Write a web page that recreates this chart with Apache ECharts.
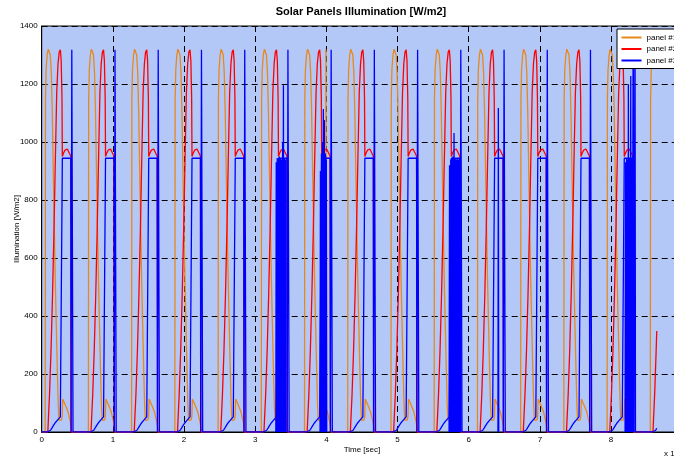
<!DOCTYPE html>
<html><head><meta charset="utf-8">
<script src="https://cdn.jsdelivr.net/npm/echarts@6/dist/echarts.min.js"></script>
<style>html,body{margin:0;padding:0;background:#fff}#c{width:674px;height:457px}</style>
</head><body><div id="c"></div><script>
// Time axis in units of 10^4 s. Orbit-by-orbit times of the panel #1 peak
const cyclePeaks = [0.107, 0.714, 1.321, 1.929, 2.537, 3.144, 3.751, 4.358, 4.966, 5.573, 6.181, 6.788, 7.395, 8.003];

// One orbit: time offsets from the panel #1 peak and illumination [W/m2]
const p1Off = [-0.058, -0.054, -0.045, -0.030, -0.015, 0, 0.014, 0.028, 0.042, 0.056, 0.070, 0.084, 0.098, 0.112, 0.126, 0.136, 0.171, 0.181, 0.188, 0.225, 0.263, 0.295, 0.319];
const p1Val = [0, 1150, 1250, 1300, 1320, 1325, 1300, 1240, 1100, 900, 700, 520, 370, 220, 90, 40, 42, 55, 114, 93, 70, 36, 0];
const p2Off = [-0.021, 0.003, 0.024, 0.045, 0.066, 0.084, 0.104, 0.122, 0.139, 0.155, 0.167, 0.178, 0.183, 0.200, 0.221, 0.253, 0.277, 0.301, 0.308];
const p2Val = [0, 130, 280, 470, 700, 930, 1170, 1270, 1310, 1318, 1280, 1150, 950, 962, 972, 976, 970, 952, 0];
const p3Off = [-0.032, -0.004, 0.017, 0.038, 0.059, 0.084, 0.108, 0.129, 0.155, 0.178, 0.183, 0.302, 0.305, 0.316, 0.333];
const p3Val = [0, 2, 6, 14, 23, 32, 39, 44, 52, 56, 944, 944, 0, 1318, 0];

// Last, truncated orbit
const p1Last = [[8.552, 0], [8.556, 1150], [8.565, 1250], [8.580, 1300], [8.595, 1320], [8.610, 1325], [8.6425, 1275]];
const p2Last = [[8.589, 0], [8.613, 130], [8.634, 280], [8.6425, 348]];
const p3Last = [[8.578, 0], [8.606, 2], [8.627, 6], [8.6425, 13]];

// Irregular extra traces seen in some orbits
const p1Extra = [
  [3.3066, 40], [3.3207, 90], [3.3347, 30], [3.3488, 100], [3.3629, 35], [3.3769, 80], [3.3910, 30], [3.4050, 60], ['-', '-'],
  [3.9251, 50], [3.9391, 90], [3.9532, 40], [3.9672, 80], [3.9813, 50], ['-', '-'],
  [3.9869, 60], [3.9939, 1320], [4.0009, 60], ['-', '-'],
  [5.7645, 40], [5.7786, 100], [5.7927, 50], [5.8067, 110], [5.8208, 40]
];
const p3Extra = [
  [3.2898, 0], [3.2954, 930], [3.3010, 0], [3.3094, 945], [3.3151, 0], [3.3249, 940], [3.3305, 0], [3.3390, 950], [3.3446, 0],
  [3.3544, 945], [3.3600, 0], [3.3699, 940], [3.3755, 0], [3.3853, 1000], [3.3910, 0], [3.3966, 1196], [3.4022, 0],
  [3.4120, 945], [3.4177, 0], [3.4275, 940], [3.4331, 0], ['-', '-'],
  [3.9110, 0], [3.9166, 900], [3.9222, 0], [3.9307, 960], [3.9363, 0], [3.9447, 1000], [3.9503, 0], [3.9574, 1114], [3.9630, 0],
  [3.9715, 1076], [3.9771, 0], [3.9855, 960], [3.9911, 0], [3.9995, 940], [4.0051, 0], ['-', '-'],
  [5.7238, 0], [5.7308, 920], [5.7378, 0], [5.7477, 940], [5.7533, 0], [5.7631, 945], [5.7687, 0], [5.7786, 950], [5.7842, 0],
  [5.7940, 1031], [5.7996, 0], [5.8095, 945], [5.8151, 0], [5.8249, 940], [5.8305, 0], [5.8404, 945], [5.8460, 0],
  [5.8558, 940], [5.8614, 0], [5.8713, 945], [5.8769, 0], [5.8867, 940], [5.8924, 0], ['-', '-'],
  [6.4110, 0], [6.4166, 1117], [6.4222, 0], ['-', '-'],
  [8.1972, 0], [8.2028, 930], [8.2084, 0], [8.2183, 945], [8.2239, 0], [8.2337, 940], [8.2394, 0], [8.2436, 1199], [8.2492, 0],
  [8.2590, 945], [8.2647, 0], [8.2773, 1228], [8.2829, 0], [8.2928, 945], [8.2984, 0], [8.3096, 1273], [8.3153, 0],
  [8.3378, 1297], [8.3434, 0]
];

const xTicks = {min: 0, max: 9, interval: 1};
const yTicks = {min: 0, max: 1400, interval: 200};
const names = ['panel #1', 'panel #2', 'panel #3'];
const colors = ['#e8881a', '#ff0000', '#0000ff'];

function build(off, val, last) {
  const d = [[0, 0]];
  for (const p of cyclePeaks) for (let i = 0; i < off.length; i++) d.push([+(p + off[i]).toFixed(4), val[i]]);
  for (const pt of last) d.push(pt);
  return d;
}

const font = 'Liberation Sans, Arial, Helvetica, sans-serif';
const chart = echarts.init(document.getElementById('c'), null, {renderer: 'canvas', width: 674, height: 457});
const lineS = (name, color, data) => ({
  type: 'line', name, data, showSymbol: false, symbol: 'none', color,
  lineStyle: {color, width: 1.3}, connectNulls: false, animation: false, z: 3
});
chart.setOption({
  animation: false,
  backgroundColor: '#fff',
  grid: {left: 41.7, top: 26, right: -8.2, bottom: 25, show: true, backgroundColor: '#b4c8f8', borderColor: '#000', borderWidth: 1, containLabel: false, outerBoundsMode: 'none'},
  xAxis: {
    type: 'value', min: xTicks.min, max: xTicks.max, interval: xTicks.interval,
    name: 'Time [sec]', nameLocation: 'middle', nameGap: 14, nameMoveOverlap: false,
    nameTextStyle: {fontSize: 8, fontFamily: font, color: '#000', verticalAlign: 'top'},
    axisLine: {show: true, onZero: false, lineStyle: {color: '#000', width: 1}},
    axisTick: {show: true, inside: true, length: 3, lineStyle: {color: '#000'}},
    axisLabel: {fontSize: 8, fontFamily: font, color: '#000', margin: 4, showMaxLabel: false, formatter: v => String(v)},
    splitLine: {show: true, lineStyle: {color: '#000', type: [6, 4], width: 1}}
  },
  yAxis: {
    type: 'value', min: yTicks.min, max: yTicks.max, interval: yTicks.interval,
    name: 'Illumination [W/m2]', nameLocation: 'middle', nameGap: 20.5, nameRotate: 90, nameMoveOverlap: false,
    nameTextStyle: {fontSize: 8, fontFamily: font, color: '#000'},
    axisLine: {show: true, onZero: false, lineStyle: {color: '#000', width: 1}},
    axisTick: {show: true, inside: true, length: 3, lineStyle: {color: '#000'}},
    axisLabel: {fontSize: 8, fontFamily: font, color: '#000', margin: 4, formatter: v => String(v)},
    splitLine: {show: true, lineStyle: {color: '#000', type: [6, 4], width: 1}}
  },
  legend: {
    data: names, orient: 'vertical', left: 617, top: 29, padding: [3.5, 8, 3, 4.5],
    itemWidth: 20, itemHeight: 2, itemGap: 1.5, icon: 'rect',
    backgroundColor: '#fff', borderColor: '#000', borderWidth: 1, borderRadius: 0,
    textStyle: {fontSize: 8, fontFamily: font, color: '#000', lineHeight: 10}
  },
  graphic: [
    {type: 'text', x: 361, y: 12, style: {text: 'Solar Panels Illumination [W/m2]', textAlign: 'center', textVerticalAlign: 'middle', font: 'bold 11px ' + font, fill: '#000'}},
    {type: 'text', x: 664, y: 454, style: {text: 'x 10⁴', textAlign: 'left', textVerticalAlign: 'middle', font: '8px ' + font, fill: '#000'}}
  ],
  series: [
    lineS(names[0], colors[0], build(p1Off, p1Val, p1Last)),
    lineS(names[0], colors[0], p1Extra),
    lineS(names[1], colors[1], build(p2Off, p2Val, p2Last)),
    lineS(names[2], colors[2], build(p3Off, p3Val, p3Last)),
    lineS(names[2], colors[2], p3Extra)
  ]
});
</script></body></html>
